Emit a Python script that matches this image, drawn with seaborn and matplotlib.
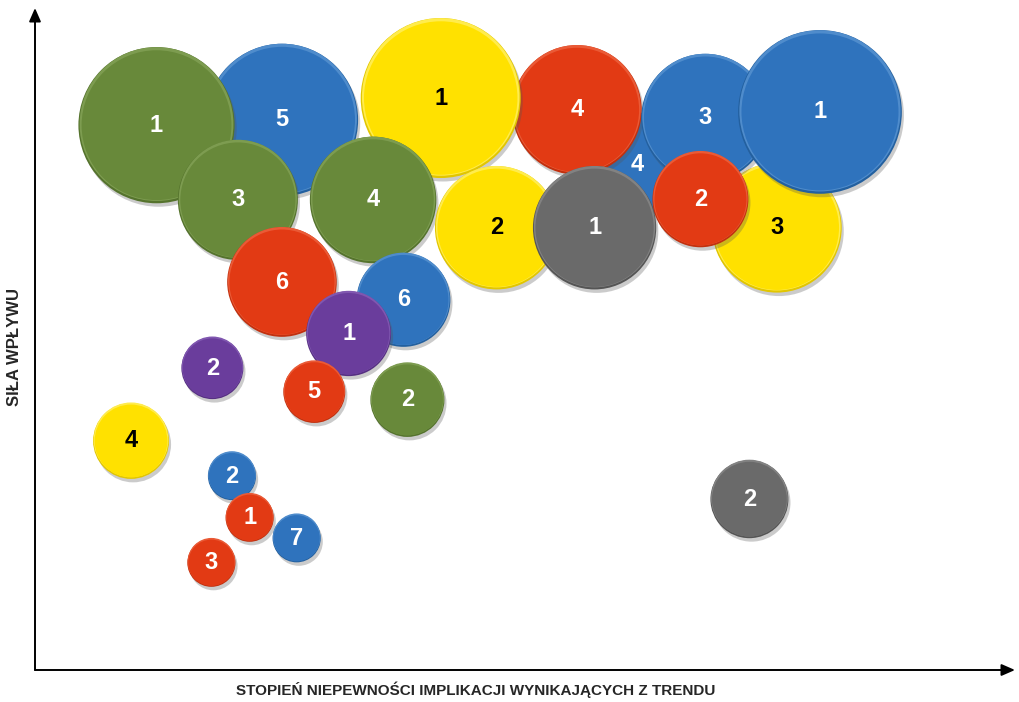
import matplotlib
matplotlib.use("Agg")
import matplotlib.pyplot as plt
import matplotlib.patheffects as pe
from matplotlib.transforms import offset_copy
import seaborn as sns
import pandas as pd

# ── Dane (skala 0–100 na obu osiach) ─────────────────────────────────────────
grupa = ["niebieski", "czerwony", "zolty", "niebieski", "zielony", "zielony",
         "zielony", "czerwony", "zolty", "szary", "zolty", "niebieski",
         "niebieski", "czerwony", "niebieski", "fioletowy", "fioletowy",
         "czerwony", "zielony", "zolty", "niebieski", "czerwony", "niebieski",
         "czerwony", "szary"]
etykieta = ["4", "4", "1", "5", "1", "3", "4", "6", "2", "1", "3", "3", "1", "2",
            "6", "1", "2", "5", "2", "4", "2", "1", "7", "3", "2"]
niepewnosc = [61.4, 55.3, 41.4, 25.2, 12.4, 20.7, 34.5, 25.2, 47.1, 57.1, 75.7,
              68.4, 80.1, 67.9, 37.6, 32.0, 18.1, 28.5, 38.0, 9.8, 20.1, 21.9,
              26.7, 18.0, 72.9]
sila_wplywu = [76.3, 84.6, 86.4, 83.1, 82.3, 71.0, 71.0, 58.6, 66.8, 66.8, 66.8,
               83.4, 84.3, 71.1, 55.9, 50.8, 45.6, 42.0, 40.8, 34.6, 29.3, 23.0,
               19.9, 16.2, 25.8]
wielkosc = [27, 42, 64, 58, 61, 36, 40, 30, 38, 38, 42, 41, 67, 23, 22, 18, 9.6,
            9.6, 13.7, 14.4, 5.8, 5.8, 5.8, 5.8, 15.2]

KOLORY = {
    "niebieski": ("#2f73bd", "#23609f", "#4f8ccc"),
    "czerwony": ("#e23a14", "#c2300e", "#ea5a36"),
    "zolty": ("#ffe100", "#e2c600", "#ffec4d"),
    "zielony": ("#68893a", "#55732d", "#7d9c50"),
    "szary": ("#6a6a6a", "#555555", "#828282"),
    "fioletowy": ("#6a3d9c", "#573083", "#8057b0"),
}
KOLOR_TEKSTU = {"zolty": "black"}

df = pd.DataFrame({"grupa": grupa, "etykieta": etykieta, "x": niepewnosc,
                   "y": sila_wplywu, "wielkosc": wielkosc})

S_MAX = 20736  # rozmiar markera (pt^2) dla wielkosc == 100
FONT = ["Liberation Sans Narrow", "Liberation Sans", "DejaVu Sans"]

sns.set_style("white")
plt.rcParams["font.family"] = FONT

fig = plt.figure(figsize=(10.19, 7.02), dpi=100)
ax = fig.add_axes([35 / 1019, 32 / 702, 980 / 1019, 662 / 702])
ax.set_xlim(0, 100)
ax.set_ylim(0, 100)

cien = [pe.SimplePatchShadow(offset=(1.5, -2.5), shadow_rgbFace="#555555", alpha=0.3),
        pe.Normal()]

for i, row in df.iterrows():
    one = df.iloc[[i]]
    base, dark, light = KOLORY[row.grupa]
    z = 10 + 4 * i
    # obwodka (ciemniejsza) z cieniem
    sns.scatterplot(data=one, x="x", y="y", size="wielkosc", sizes=(0, S_MAX),
                    size_norm=(0, 100), color=dark, edgecolor="none",
                    legend=False, ax=ax, zorder=z)
    ax.collections[-1].set_path_effects(cien)
    # jasna krawedz u gory
    sns.scatterplot(data=one, x="x", y="y", size="wielkosc",
                    sizes=(0, S_MAX * 0.97), size_norm=(0, 100), color=light,
                    edgecolor="none", legend=False, ax=ax, zorder=z + 1)
    ax.collections[-1].set_offset_transform(
        offset_copy(ax.transData, fig=fig, x=0, y=0.8, units="points"))
    # wnetrze
    sns.scatterplot(data=one, x="x", y="y", size="wielkosc",
                    sizes=(0, S_MAX * 0.92), size_norm=(0, 100), color=base,
                    edgecolor="none", legend=False, ax=ax, zorder=z + 2)
    ax.text(row.x, row.y, row.etykieta, ha="center", va="center",
            fontsize=17, fontweight="bold",
            color=KOLOR_TEKSTU.get(row.grupa, "white"), zorder=z + 3)

# ── Osie ze strzalkami, bez podzialek ────────────────────────────────────────
for s in ax.spines.values():
    s.set_visible(False)
ax.set_xticks([])
ax.set_yticks([])
ax.set_xlabel("")
ax.set_ylabel("")
strzalka = dict(arrowstyle="-|>,head_length=0.8,head_width=0.35", color="black",
                lw=1.4, shrinkA=0, shrinkB=0)
ax.annotate("", xy=(1, 0), xytext=(0, 0), xycoords="axes fraction",
            arrowprops=strzalka, zorder=1)
ax.annotate("", xy=(0, 1), xytext=(0, 0), xycoords="axes fraction",
            arrowprops=strzalka, zorder=1)

fig.text(476 / 1019, 1 - 690 / 702, "STOPIEŃ NIEPEWNOŚCI IMPLIKACJI WYNIKAJĄCYCH Z TRENDU",
         ha="center", va="center", fontsize=11, fontweight="bold")
fig.text(15 / 1019, 1 - 347 / 702, "SIŁA WPŁYWU", rotation=90,
         ha="center", va="center", fontsize=12, fontweight="bold")

fig.savefig("out.png", dpi=100)
plt.close(fig)
